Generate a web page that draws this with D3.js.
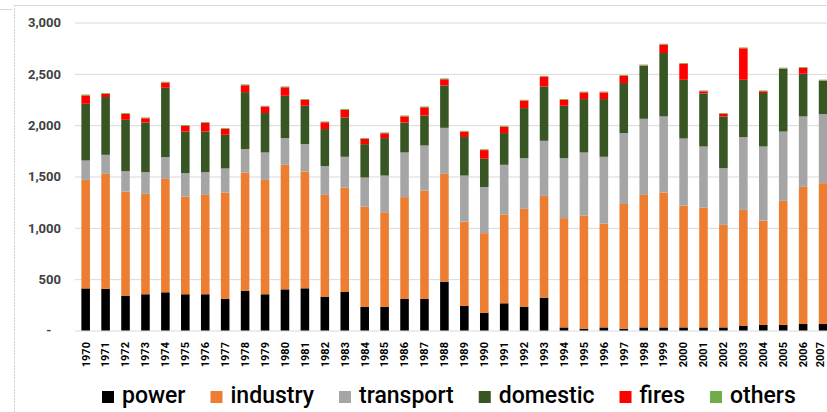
<!DOCTYPE html>
<html><head><meta charset="utf-8">
<script src="https://cdn.jsdelivr.net/npm/d3@7"></script>
<style>body{margin:0;background:#fff;overflow:hidden} svg{display:block}</style>
</head><body><svg id="c" width="827" height="412"></svg>
<script>
const years = d3.range(1970, 2008).map(String);
const power = [410,405,340,353,372,353,353,307,385,353,401,411,330,375,229,229,307,307,476,239,174,265,229,320,30,18,30,18,30,30,30,30,30,44,54,54,63,63];
const industry = [1057,1121,1013,978,1105,952,968,1037,1154,1114,1213,1137,991,1018,978,923,992,1056,1050,822,774,864,956,991,1064,1101,1011,1215,1291,1314,1187,1167,999,1131,1017,1209,1336,1372];
const transport = [189,185,199,211,212,228,221,234,228,267,260,267,280,299,283,357,435,439,448,448,450,485,494,537,585,615,651,690,741,741,653,595,552,709,721,675,686,673];
const domestic = [552,563,500,484,675,405,396,328,555,384,412,374,361,383,325,365,292,292,413,375,275,309,487,529,510,520,562,487,517,618,572,517,504,558,521,611,416,324];
const fires = [82,30,58,41,51,55,84,57,67,63,83,57,66,74,51,47,60,80,60,53,84,63,73,96,58,65,65,71,3,82,155,21,25,307,17,3,57,3];
const others = [8,8,8,8,8,8,8,8,8,8,8,8,8,8,8,8,8,8,8,8,8,8,8,8,8,8,8,8,8,8,8,8,8,8,8,8,8,8];
const seriesNames = ["power","industry","transport","domestic","fires","others"];
const seriesColors = ["#000000","#ED7D31","#A5A5A5","#375623","#FF0000","#70AD47"];
const yTicks = [0,500,1000,1500,2000,2500,3000];

const W = 827, H = 412;
const FONT = "Roboto, 'Liberation Sans', sans-serif";
const svg = d3.select("#c");
svg.append("rect").attr("width", W).attr("height", H).attr("fill", "#fff");

// outer frame fragments
svg.append("line").attr("x1", 14).attr("x2", W).attr("y1", 5.5).attr("y2", 5.5).attr("stroke", "#d9d9d9");
svg.append("line").attr("x1", 14.5).attr("x2", 14.5).attr("y1", 5).attr("y2", H).attr("stroke", "#cfcfcf").attr("stroke-dasharray", "2,1");
svg.append("line").attr("x1", 0).attr("x2", 12).attr("y1", 9.5).attr("y2", 9.5).attr("stroke", "#d9d9d9");

const table = years.map((yr, i) => ({year: yr, power: power[i], industry: industry[i], transport: transport[i], domestic: domestic[i], fires: fires[i], others: others[i]}));
const stack = d3.stack().keys(seriesNames)(table);

const y = d3.scaleLinear().domain([0, 3000]).range([330.5, 22.5]);
const step = 19.93, x0 = 75.7;
const x = d3.scaleBand().domain(years).range([x0, x0 + years.length * step]).paddingInner(0.57).paddingOuter(0.285);
const color = d3.scaleOrdinal().domain(seriesNames).range(seriesColors);

// y axis + gridlines
const gy = svg.append("g").attr("transform", "translate(75,0)")
  .call(d3.axisLeft(y).tickValues(yTicks).tickSize(-(W - 75)).tickPadding(14)
    .tickFormat(d => d === 0 ? "-\u00A0\u00A0\u00A0" : d3.format(",")(d)));
gy.select(".domain").remove();
gy.selectAll(".tick line").attr("stroke", "#d9d9d9");
gy.selectAll(".tick text").attr("fill", "#404040").style("font-family", FONT).style("font-size", "13px").style("font-weight", "700");

// bars
svg.append("g").selectAll("g").data(stack).join("g")
  .attr("fill", d => color(d.key))
  .selectAll("rect").data(d => d).join("rect")
  .attr("x", d => x(d.data.year))
  .attr("width", x.bandwidth())
  .attr("y", d => y(d[1]))
  .attr("height", d => y(d[0]) - y(d[1]));

// x axis labels
const gx = svg.append("g").attr("transform", "translate(0,331)")
  .call(d3.axisBottom(x).tickSize(0));
gx.select(".domain").remove();
gx.selectAll(".tick text")
  .attr("transform", "rotate(-90)")
  .attr("text-anchor", "end")
  .attr("x", -11).attr("y", d => d === "2007" ? -3 : 0).attr("dy", "0.35em")
  .attr("fill", "#000")
  .style("font-family", FONT).style("font-size", "11px").style("font-weight", "700");

// legend
const leg = svg.append("g");
let lx = 102;
seriesNames.forEach((name, i) => {
  leg.append("rect").attr("x", lx).attr("y", 391).attr("width", 12).attr("height", 12).attr("fill", seriesColors[i]);
  const t = leg.append("text").attr("x", lx + 20).attr("y", 403).text(name)
    .attr("fill", "#000").style("font-family", FONT).style("font-size", "23px").style("font-weight", "500");
  lx += 20 + t.node().getComputedTextLength() + 25;
});
</script>
</body></html>
